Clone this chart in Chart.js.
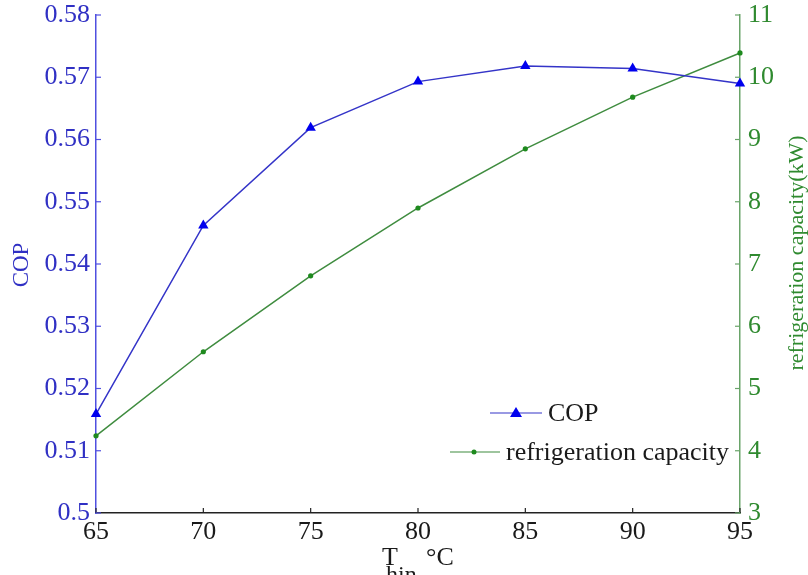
<!DOCTYPE html>
<html>
<head>
<meta charset="utf-8">
<script src="https://cdn.jsdelivr.net/npm/chart.js@4.4.1/dist/chart.umd.min.js"></script>
<style>
  html, body { margin:0; padding:0; background:#fff; }
  #wrap { width:808px; height:575px; position:relative; }
</style>
</head>
<body>
<div id="wrap"><canvas id="chart"></canvas></div>
<script>
/* ── data ── */
var T_HIN   = [65, 70, 75, 80, 85, 90, 95];
var COP     = [0.5159, 0.5462, 0.5619, 0.5693, 0.5718, 0.5714, 0.5690];
var CAPAC   = [4.24, 5.59, 6.81, 7.90, 8.85, 9.68, 10.39];
var COP_TICKS = [0.5, 0.51, 0.52, 0.53, 0.54, 0.55, 0.56, 0.57, 0.58];
var CAP_TICKS = [3, 4, 5, 6, 7, 8, 9, 10, 11];

var FONT  = "'Liberation Serif', 'DejaVu Serif', serif";
var BLUE  = '#3434c8', BLUE_AX = '#5050e0', BLUE_TXT = '#3030c4';
var GREEN = '#3f8c3f', GREEN_AX = '#6aa46a', GREEN_TXT = '#2f8a2f';

/* inward ticks, axis titles and legend */
var decor = {
  id: 'decor',
  afterDraw: function(chart) {
    var c = chart.ctx, a = chart.chartArea;
    var sx = chart.scales.x, sl = chart.scales.yCop, sr = chart.scales.yCap;
    c.save();
    c.lineWidth = 1.2;
    // bottom ticks
    c.strokeStyle = '#222';
    sx.ticks.forEach(function(t, i) {
      var px = sx.getPixelForTick(i);
      c.beginPath(); c.moveTo(px, a.bottom); c.lineTo(px, a.bottom - 5); c.stroke();
    });
    // left ticks
    c.strokeStyle = BLUE_AX;
    sl.ticks.forEach(function(t, i) {
      var py = sl.getPixelForTick(i);
      c.beginPath(); c.moveTo(a.left, py); c.lineTo(a.left + 5, py); c.stroke();
    });
    // right ticks
    c.strokeStyle = GREEN_AX;
    sr.ticks.forEach(function(t, i) {
      var py = sr.getPixelForTick(i);
      c.beginPath(); c.moveTo(a.right, py); c.lineTo(a.right - 5, py); c.stroke();
    });

    // axis titles
    c.textAlign = 'center'; c.textBaseline = 'middle';
    c.fillStyle = BLUE_TXT;
    c.font = '23px ' + FONT;
    c.save(); c.translate(22, 265); c.rotate(-Math.PI / 2); c.fillText('COP', 0, 0); c.restore();
    c.fillStyle = GREEN_TXT;
    c.font = '22px ' + FONT;
    c.save(); c.translate(797, 253); c.rotate(-Math.PI / 2); c.fillText('refrigeration capacity(kW)', 0, 0); c.restore();

    // x title: T_hin °C
    c.fillStyle = '#1a1a1a'; c.textAlign = 'left'; c.textBaseline = 'alphabetic';
    c.font = '26px ' + FONT;
    c.fillText('T', 382, 565);
    c.font = '24px ' + FONT;
    c.fillText('hin', 386, 582);
    c.font = '26px ' + FONT;
    c.fillText('\u00B0C', 426, 565);

    // legend
    c.lineWidth = 1.2;
    c.strokeStyle = BLUE;
    c.beginPath(); c.moveTo(490, 413); c.lineTo(542, 413); c.stroke();
    c.fillStyle = '#0000ee';
    c.beginPath(); c.moveTo(516, 407); c.lineTo(522, 417); c.lineTo(510, 417); c.closePath(); c.fill();
    c.strokeStyle = GREEN;
    c.beginPath(); c.moveTo(450, 452); c.lineTo(500, 452); c.stroke();
    c.fillStyle = '#1e8a1e';
    c.beginPath(); c.arc(474, 452, 2.5, 0, Math.PI * 2); c.fill();
    c.fillStyle = '#1a1a1a'; c.font = '26px ' + FONT; c.textBaseline = 'middle';
    c.fillText('COP', 548, 414);
    c.fillText('refrigeration capacity', 506, 453);
    c.restore();
  }
};

function fmt(v) { return String(Number(v.toFixed(2))); }
function fitY(w) {
  return function(s) { s.width = w; s.paddingTop = 0; s.paddingBottom = 0; };
}

new Chart(document.getElementById('chart'), {
  type: 'line',
  data: {
    labels: T_HIN,
    datasets: [
      { label: 'COP', data: COP, yAxisID: 'yCop', borderColor: BLUE, borderWidth: 1.5,
        pointStyle: 'triangle', pointRadius: 6, pointBackgroundColor: '#0000ee', pointBorderColor: '#0000ee',
        pointBorderWidth: 0, tension: 0, clip: false },
      { label: 'refrigeration capacity', data: CAPAC, yAxisID: 'yCap', borderColor: GREEN, borderWidth: 1.5,
        pointStyle: 'circle', pointRadius: 2.6, pointBackgroundColor: '#1e8a1e', pointBorderColor: '#1e8a1e',
        pointBorderWidth: 0, tension: 0, clip: false }
    ]
  },
  options: {
    responsive: true,
    maintainAspectRatio: false,
    animation: false,
    layout: { padding: { top: 15, left: 0, right: 0, bottom: 0 } },
    plugins: { legend: { display: false }, tooltip: { enabled: false } },
    scales: {
      x: {
        type: 'category', offset: false,
        grid: { display: true, drawOnChartArea: false, drawTicks: false },
        border: { color: '#222', width: 1.5 },
        ticks: { color: '#1a1a1a', font: { family: FONT, size: 26 }, padding: 4, maxRotation: 0 },
        afterFit: function(s) { s.height = 62; s.paddingLeft = 0; s.paddingRight = 0; }
      },
      yCop: {
        position: 'left', min: 0.5, max: 0.58,
        afterBuildTicks: function(s) { s.ticks = COP_TICKS.map(function(v) { return { value: v }; }); },
        grid: { drawOnChartArea: false, drawTicks: false },
        border: { color: BLUE_AX, width: 1.5 },
        ticks: { color: BLUE_TXT, font: { family: FONT, size: 26 }, padding: 6, callback: fmt },
        afterFit: fitY(96)
      },
      yCap: {
        position: 'right', min: 3, max: 11,
        afterBuildTicks: function(s) { s.ticks = CAP_TICKS.map(function(v) { return { value: v }; }); },
        grid: { drawOnChartArea: false, drawTicks: false },
        border: { color: GREEN_AX, width: 1.5 },
        ticks: { color: GREEN_TXT, font: { family: FONT, size: 26 }, padding: 8 },
        afterFit: fitY(68)
      }
    }
  },
  plugins: [decor]
});
</script>
</body>
</html>
